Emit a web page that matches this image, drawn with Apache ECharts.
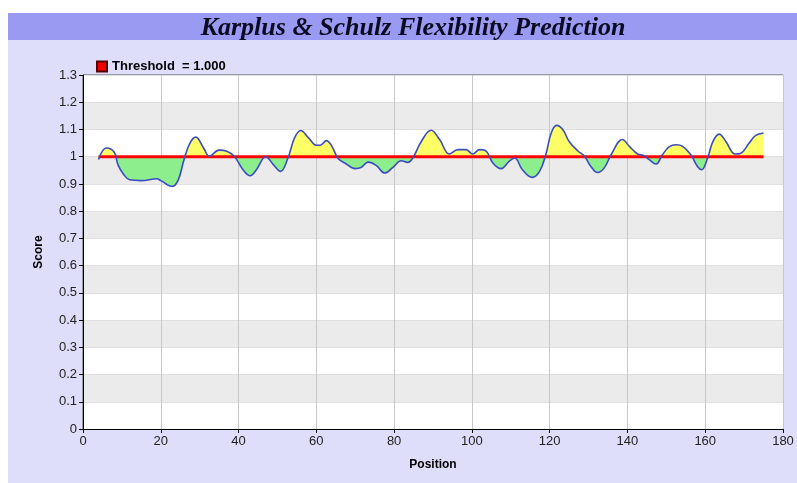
<!DOCTYPE html>
<html>
<head>
<meta charset="utf-8">
<script src="https://cdn.jsdelivr.net/npm/echarts@6/dist/echarts.min.js"></script>
<style>
  html, body { margin: 0; padding: 0; background: #fff; }
  #chart { width: 797px; height: 483px; }
</style>
</head>
<body>
<div id="chart"></div>
<script>
// 位置 (Position) 和 得分 (Score)
var positions = [4, 6, 8, 9, 10.5, 12, 15, 19, 20, 23, 24.5, 26, 27.5, 29, 31, 32.5, 35, 37, 39,
    41, 43, 44.5, 47, 49, 50.8, 52.7, 54.4, 56, 58, 60, 61, 62.6, 64, 65.6, 67.3, 70, 71.6, 73.3,
    75.4, 77.6, 79.7, 81.8, 83.5, 84.8, 87, 89.5, 91.7, 94.2, 96.4, 98.5, 100.2, 102, 103.7,
    105.4, 107.5, 109.7, 111, 113, 115.5, 117.4, 119, 120.4, 121.8, 123.4, 125, 127.2, 129,
    130.6, 132.3, 134, 135.8, 138.7, 140.5, 142.6, 144, 145.6, 147.3, 149, 150.7, 152.5, 154.2,
    156.3, 158, 159.1, 160.6, 162, 163.6, 165.3, 167.7, 169.2, 171.3, 173, 175];
var scores = [0.99, 1.032, 1.017, 0.97, 0.934, 0.915, 0.912, 0.919, 0.912, 0.891, 0.915, 0.99, 1.05, 1.072, 1.032, 1.002, 1.024, 1.02, 1.0,
    0.955, 0.93, 0.95, 1.0, 0.97, 0.946, 0.995, 1.069, 1.096, 1.069, 1.042, 1.042, 1.059, 1.038, 0.993, 0.977, 0.956, 0.961, 0.98,
    0.968, 0.94, 0.961, 0.985, 0.979, 0.995, 1.056, 1.097, 1.063, 1.01, 1.026, 1.026, 1.01, 1.026, 1.02,
    0.977, 0.956, 0.985, 0.995, 0.952, 0.924, 0.946, 1.007, 1.087, 1.115, 1.099, 1.056, 1.022, 1.001,
    0.964, 0.942, 0.958, 1.007, 1.063, 1.038, 1.01, 1.005, 0.989, 0.973, 1.007, 1.036, 1.044, 1.038,
    1.007, 0.964, 0.952, 0.995, 1.056, 1.083, 1.056, 1.01, 1.013, 1.05, 1.078, 1.087];
var threshold = 1.0;
var thresholdName = 'Threshold  = 1.000';

var chart = echarts.init(document.getElementById('chart'));

var scoreData = positions.map(function (p, i) { return [p, scores[i]]; });
var thresholdData = [[positions[0], threshold], [positions[positions.length - 1], threshold]];

var option = {
    backgroundColor: '#fff',
    animation: false,
    textStyle: { fontFamily: 'Liberation Sans' },
    graphic: [
        { type: 'rect', z: -10, shape: { x: 8, y: 13, width: 789, height: 470 }, style: { fill: '#dedefa' } },
        { type: 'rect', z: -9, shape: { x: 8, y: 13, width: 789, height: 27 }, style: { fill: '#9a9af2' } },
        {
            type: 'text', x: 413, y: 28,
            style: {
                text: 'Karplus & Schulz Flexibility Prediction',
                font: 'italic bold 26px "Liberation Serif"',
                fill: '#0a0a20', align: 'center', verticalAlign: 'middle'
            }
        }
    ],
    legend: {
        data: [thresholdName],
        left: 91, top: 55,
        icon: 'rect', itemWidth: 10, itemHeight: 10, itemGap: 5,
        textStyle: { fontWeight: 'bold', fontSize: 13, color: '#000' }
    },
    grid: {
        left: 83, right: 14, top: 75, bottom: 54,
        show: true, borderColor: '#555', borderWidth: 1, backgroundColor: 'transparent'
    },
    xAxis: {
        type: 'value', min: 0, max: 180, interval: 20,
        name: 'Position', nameLocation: 'middle', nameGap: 30,
        nameTextStyle: { fontWeight: 'bold', fontSize: 12, color: '#000' },
        axisLine: { lineStyle: { color: '#000', width: 1 } },
        axisTick: { show: true, length: 4, lineStyle: { color: '#000' } },
        axisLabel: { fontSize: 13, color: '#222', margin: 6 },
        splitLine: { show: true, lineStyle: { color: '#c8c8c8', width: 1 } }
    },
    yAxis: {
        type: 'value', min: 0, max: 1.3, interval: 0.1,
        name: 'Score', nameLocation: 'middle', nameGap: 38, nameRotate: 90,
        nameTextStyle: { fontWeight: 'bold', fontSize: 12, color: '#000' },
        axisLine: { show: true, lineStyle: { color: '#000', width: 1 } },
        axisTick: { show: true, length: 4, lineStyle: { color: '#000' } },
        axisLabel: { fontSize: 13, color: '#222', margin: 6 },
        splitLine: { show: true, lineStyle: { color: '#e0e0e0', width: 1 } },
        splitArea: { show: true, areaStyle: { color: ['#ffffff', '#ebebeb'] } }
    },
    series: [
        {
            // 填充区域 (黄色/绿色)，颜色在下面按阈值像素位置设置
            type: 'line', data: scoreData, smooth: 0.4, symbol: 'none',
            lineStyle: { opacity: 0 },
            areaStyle: { origin: threshold, opacity: 1, color: '#ffff66' },
            z: 1, silent: true
        },
        {
            name: thresholdName,
            type: 'line', data: thresholdData, symbol: 'none',
            lineStyle: { color: '#ff0000', width: 3 },
            itemStyle: { color: '#ee0000', borderColor: '#500', borderWidth: 1 },
            z: 2
        },
        {
            type: 'line', data: scoreData, smooth: 0.4, symbol: 'none',
            lineStyle: { color: '#3b4cc0', width: 1.6 },
            z: 3
        }
    ]
};

chart.setOption(option);

// 阈值以上黄色，以下绿色
var yPix = chart.convertToPixel({ yAxisIndex: 0 }, threshold);
var h = chart.getHeight();
var stop = yPix / h;
chart.setOption({
    series: [{
        areaStyle: {
            color: new echarts.graphic.LinearGradient(0, 0, 0, h, [
                { offset: 0, color: '#ffff66' },
                { offset: stop, color: '#ffff66' },
                { offset: stop, color: '#8cee8c' },
                { offset: 1, color: '#8cee8c' }
            ], true)
        }
    }]
});
</script>
</body>
</html>
